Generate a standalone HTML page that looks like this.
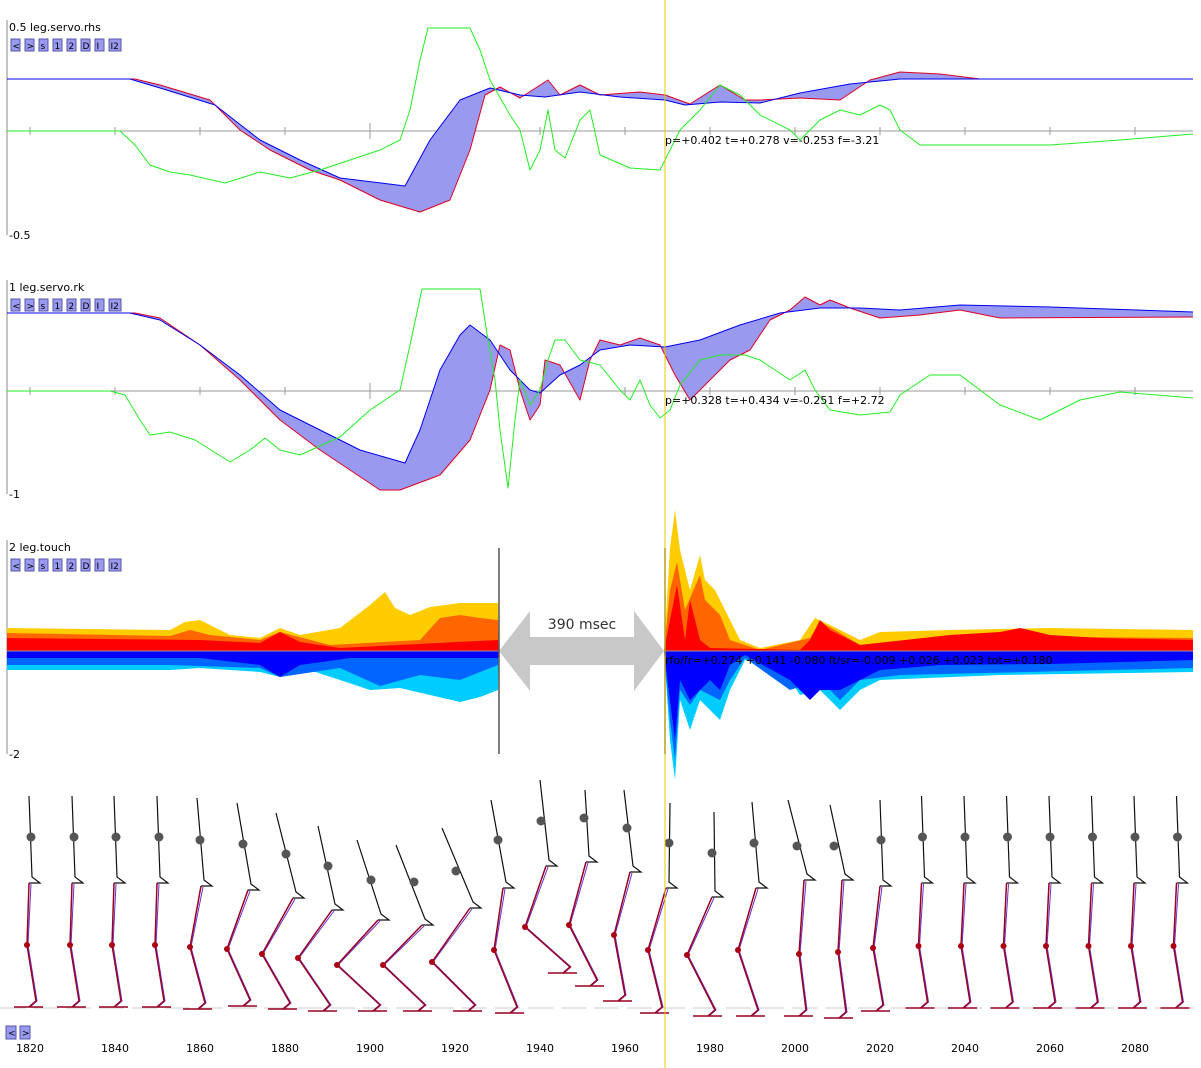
<!DOCTYPE html>
<html><head><meta charset="utf-8"><style>
body{margin:0;background:#fff}
svg{display:block;font-family:"DejaVu Sans","Liberation Sans",sans-serif}
.b rect{fill:#9999ee;stroke:#5555aa;stroke-width:1}
.b text{font-size:9px;fill:#000}
</style></head><body>
<svg id="s" width="1201" height="1068" viewBox="0 0 1201 1068" xmlns="http://www.w3.org/2000/svg">
<g id="g"></g>
</svg>
<script>
const g=document.getElementById('g');let h='';
const P=a=>a.map(p=>p.join(',')).join(' ');
const X=t=>30+(t-1820)*4.25;
function fillBetween(a,b,col){h+=`<polygon points="${P(a.concat(b.slice().reverse()))}" fill="${col}"/>`;}
function line(a,col,w){h+=`<polyline points="${P(a)}" fill="none" stroke="${col}" stroke-width="${w||1}" stroke-linejoin="round"/>`;}
function axis(y0,top,bot,lbl,botlbl){
 h+=`<line x1="7" y1="${top}" x2="7" y2="${bot}" stroke="#888"/>`;
 h+=`<line x1="7" y1="${y0}" x2="1193" y2="${y0}" stroke="#999"/>`;
 for(let t=1820;t<=2090;t+=20){let x=X(t);let l=(t==1900)?8:4;h+=`<line x1="${x}" y1="${y0-l}" x2="${x}" y2="${y0+l}" stroke="#999"/>`;}
 h+=`<text x="9" y="${top+11}" font-size="11">${lbl}</text><text x="9" y="${bot+4}" font-size="11">${botlbl}</text>`;
 const btn=['<','>','s','1','2','D','I','I2'];let bx=11;
 btn.forEach(s=>{let w=s.length>1?12:9;h+=`<g class="b"><rect x="${bx}" y="${top+19}" width="${w}" height="12"/><text x="${bx+1.5}" y="${top+29}">${s.replace('<','&lt;').replace('>','&gt;')}</text></g>`;bx+=w+5;});
}
axis(131,20,235,'0.5 leg.servo.rhs','-0.5');
axis(391,280,494,'1 leg.servo.rk','-1');
axis(651,540,754,'2 leg.touch','-2');
let b1=[[7,79],[130,79],[160,88],[215,105],[260,140],[300,160],[340,178],[405,186],[430,140],[460,100],[490,88],[520,95],[545,97],[580,92],[620,97],[665,100],[685,105],[720,102],[760,103],[800,93],[850,84],[900,79],[1193,79]];
let r1=[[7,79],[135,79],[160,85],[210,100],[240,130],[270,150],[310,170],[340,180],[380,200],[420,212],[450,200],[470,150],[485,95],[500,87],[520,98],[548,80],[560,95],[580,85],[600,95],[640,92],[665,95],[690,104],[720,85],[745,100],[760,100],[800,98],[840,100],[870,80],[900,72],[940,74],[980,79],[1193,79]];
fillBetween(b1,r1,'#9999f0');line(r1,'#e00020');line(b1,'#0000ee');
let g1=[[7,131],[120,131],[135,145],[150,165],[170,172],[190,175],[225,183],[260,172],[290,178],[320,170],[350,160],[380,150],[400,140],[410,110],[420,60],[428,28],[470,28],[480,50],[490,80],[510,115],[520,130],[530,170],[540,150],[548,110],[555,150],[565,158],[580,120],[590,110],[600,155],[630,168],[660,170],[680,130],[700,110],[720,85],[740,95],[750,105],[760,115],[790,130],[800,140],[820,120],[840,110],[860,115],[870,110],[880,105],[890,110],[900,130],[920,145],[980,145],[1050,145],[1120,140],[1193,134]];
line(g1,'#22ee22');
let b2=[[7,313],[130,313],[160,320],[200,345],[240,375],[280,410],[320,430],[360,450],[405,463],[420,430],[440,370],[460,335],[470,325],[490,340],[510,370],[530,390],[540,393],[560,375],[580,365],[600,350],[630,345],[665,347],[700,340],[740,325],[780,313],[820,308],[860,308],[900,310],[960,305],[1050,307],[1193,312]];
let r2=[[7,313],[135,313],[160,318],[200,345],[240,380],[280,420],[320,450],[350,470],[380,490],[400,490],[440,475],[470,440],[490,390],[500,345],[510,350],[520,390],[530,420],[540,405],[545,360],[560,365],[580,400],[590,360],[600,340],[620,345],[640,338],[660,345],[675,375],[690,400],[705,385],[730,360],[750,350],[770,320],[790,310],[805,297],[820,305],[830,300],[850,308],[880,318],[920,315],[960,310],[1000,318],[1193,317]];
fillBetween(b2,r2,'#9999f0');line(r2,'#e00020');line(b2,'#0000ee');
let g2=[[7,391],[110,391],[125,395],[140,420],[150,435],[170,432],[195,440],[230,462],[250,450],[265,438],[280,450],[300,455],[340,437],[370,410],[400,390],[410,345],[422,289],[480,289],[488,340],[495,380],[500,430],[508,488],[515,420],[520,380],[530,405],[540,390],[548,360],[555,340],[565,340],[580,360],[600,365],[620,390],[630,400],[640,380],[650,405],[660,418],[670,410],[680,385],[700,360],[720,355],[745,355],[760,360],[790,380],[805,370],[815,390],[830,410],[860,415],[890,412],[900,395],[930,375],[960,375],[980,390],[1000,405],[1040,420],[1080,400],[1120,392],[1193,398]];
line(g2,'#22ee22');
const Z=651;
function area(pts,col){let a=[[7,Z]].concat(pts).concat([[1193,Z]]);h+=`<polygon points="${P(a)}" fill="${col}"/>`;}
area([[7,628],[170,630],[185,622],[200,620],[230,635],[260,638],[280,628],[300,635],[340,628],[370,605],[385,592],[395,608],[410,615],[430,607],[460,603],[498,603],[499,651],[664,651],[670,548],[675,510],[680,550],[690,590],[700,555],[705,580],[715,590],[725,610],[740,640],[760,648],[800,640],[815,618],[830,625],[860,640],[880,632],[950,630],[1050,628],[1193,630]],'#ffcc00');
area([[7,633],[170,636],[190,630],[210,635],[260,640],[280,632],[330,645],[420,640],[440,618],[460,615],[480,618],[498,620],[499,651],[664,651],[670,590],[677,562],[685,610],[700,575],[705,600],[720,615],[730,640],[760,650],[810,638],[820,622],[835,630],[860,645],[950,636],[1193,638]],'#ff6600');
area([[7,638],[200,640],[260,643],[280,632],[300,642],[340,648],[498,640],[499,651],[664,651],[670,620],[677,585],[685,640],[690,600],[700,640],[710,648],[800,650],[810,640],[820,620],[830,630],[860,645],[950,635],[1000,632],[1020,628],[1050,635],[1100,638],[1193,640]],'#ff0000');
area([[7,670],[170,670],[200,668],[260,672],[280,677],[300,667],[340,680],[370,690],[400,688],[430,695],[460,702],[480,697],[498,690],[499,651],[664,651],[670,740],[675,780],[680,700],[690,730],[700,700],[720,720],[730,690],[745,660],[780,665],[800,695],[820,690],[840,710],[860,690],[880,680],[1000,675],[1193,672]],'#00ccff');
area([[7,665],[170,665],[260,668],[280,677],[340,668],[380,686],[420,675],[460,680],[498,665],[499,651],[664,651],[670,720],[675,760],[680,690],[690,705],[700,690],[720,700],[730,680],[745,658],[790,690],[820,680],[840,700],[860,680],[900,675],[1193,668]],'#0066ff');
area([[7,658],[200,658],[260,665],[280,677],[300,665],[350,658],[498,658],[499,651],[664,651],[670,700],[675,740],[680,680],[690,700],[700,690],[710,680],[720,690],[730,665],[745,655],[790,680],[810,700],[820,690],[840,690],[860,680],[880,670],[940,665],[1050,664],[1193,660]],'#0000ff');
h+=`<line x1="7" y1="651" x2="1193" y2="651" stroke="#999"/>`;
h+=`<polygon points="499,651 530,611 530,637 634,637 634,611 664,651 634,691 634,665 530,665 530,691" fill="#c8c8c8"/>`;
h+=`<text x="582" y="629" font-size="14" text-anchor="middle" fill="#333">390 msec</text>`;
h+=`<line x1="499" y1="548" x2="499" y2="754" stroke="#555" stroke-width="1.5"/><line x1="665" y1="548" x2="665" y2="754" stroke="#555" stroke-width="1.5"/>`;
h+=`<text x="665" y="144" font-size="11">p=+0.402 t=+0.278 v=-0.253 f=-3.21</text>`;
h+=`<text x="665" y="404" font-size="11">p=+0.328 t=+0.434 v=-0.251 f=+2.72</text>`;
h+=`<text x="665" y="664" font-size="11">rfo/fr=+0.274 +0.141 -0.080 ft/sr=-0.009 +0.026 +0.023 tot=+0.180</text>`;
let F=[
[29,883,29,796,31,837,27,945,36,1001],[72,883,72,796,74,837,70,945,79,1001],[114,883,114,796,116,837,112,945,121,1001],[157,883,157,796,159,837,155,945,164,1001],
[201,886,197,798,200,840,190,947,205,1003],[248,890,237,803,243,844,227,949,250,1000],[293,898,276,813,286,854,262,954,290,1003],[332,910,318,826,328,866,298,958,330,1005],
[378,920,357,840,371,880,337,965,380,1005],[422,925,396,845,414,882,383,965,425,1005],[470,908,442,828,456,871,432,962,475,1005],[503,888,491,800,498,840,494,950,517,1007],
[546,866,540,780,541,821,525,927,570,967],[586,862,585,790,584,818,569,925,597,980],[630,872,624,790,627,828,614,935,625,995],[666,888,670,803,669,843,648,950,662,1007],
[712,897,714,812,712,853,687,955,715,1010],[756,888,752,802,754,843,738,950,758,1010],[804,880,788,800,797,846,799,954,806,1010],[842,880,830,805,834,846,838,952,846,1012],[880,886,880,800,881,840,873,948,883,1005]];
for(let t=2030;t<=2090;t+=10){let x=X(t)-1;F.push([x,883,x,796,x+1,837,x-3,946,x+6,1002]);}
h+=`<line x1="0" y1="1008" x2="1193" y2="1008" stroke="#ccc" stroke-dasharray="25,8"/>`;
F.forEach(f=>{let [hx,hy,tx,ty,cx,cy,kx,ky,ax,ay]=f;
 h+=`<polyline points="${tx},${ty} ${hx+3},${hy-6} ${hx+11},${hy} ${hx},${hy}" fill="none" stroke="#111" stroke-width="1.2"/>`;
 h+=`<circle cx="${cx}" cy="${cy}" r="4.5" fill="#555"/>`;
 h+=`<polyline points="${hx+2},${hy+1} ${kx+1},${ky} ${ax+1},${ay} ${ax-6},${ay+6} ${ax-22},${ay+6}" fill="none" stroke="#6633cc" stroke-width="1"/>`;
 h+=`<polyline points="${hx},${hy} ${kx},${ky} ${ax},${ay} ${ax-7},${ay+6} ${ax+7},${ay+6} ${ax-22},${ay+6}" fill="none" stroke="#990022" stroke-width="1.5"/>`;
 h+=`<circle cx="${kx}" cy="${ky}" r="3" fill="#aa0011"/>`;
});
h+=`<line x1="665" y1="0" x2="665" y2="1068" stroke="#e8c800" stroke-width="1"/>`;
h+=`<g class="b"><rect x="6" y="1026" width="10" height="13"/><text x="8" y="1036">&lt;</text><rect x="20" y="1026" width="10" height="13"/><text x="22" y="1036">&gt;</text></g>`;
for(let t=1820;t<=2080;t+=20)h+=`<text x="${X(t)}" y="1052" font-size="11" text-anchor="middle">${t}</text>`;
g.innerHTML=h;
</script>
</body></html>
